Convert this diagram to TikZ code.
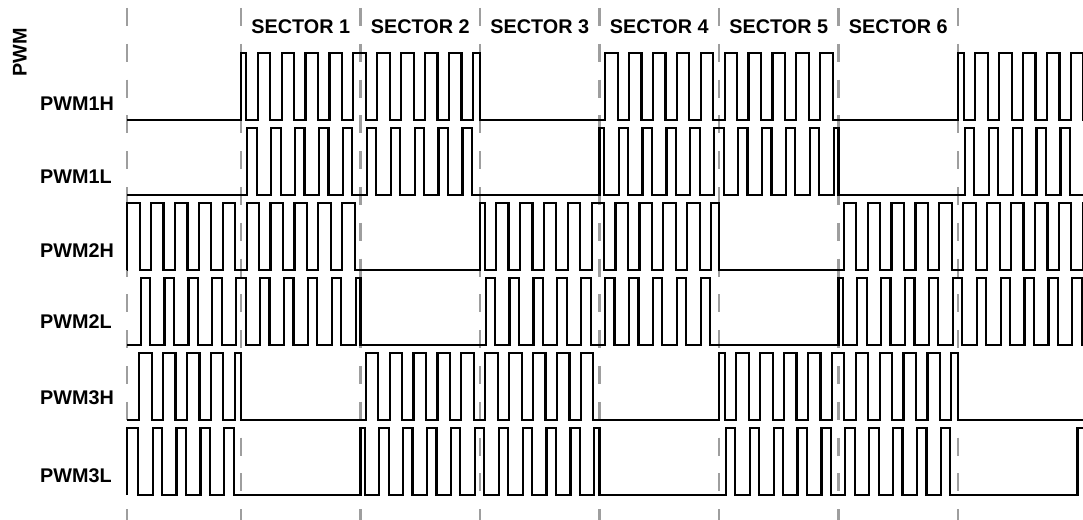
\documentclass[tikz,border=0pt]{standalone}
\usepackage{fontspec}
\setmainfont{Liberation Sans}
\def\pwmP{23.9}
\def\pwmW{12.5}
\def\pwmD{1}
% H pulses: #1 low y, #2 high y, #3 block start, #4 block end, #5 first centre, #6 kmin, #7 kmax
\def\Hp#1#2#3#4#5#6#7{\foreach \k in {#6,...,#7}{ -- ({max(#3,#5+(\k)*\pwmP-\pwmW/2)},#1) -- ({max(#3,#5+(\k)*\pwmP-\pwmW/2)},#2) -- ({min(#4,#5+(\k)*\pwmP+\pwmW/2)},#2) -- ({min(#4,#5+(\k)*\pwmP+\pwmW/2)},#1) } -- (#4,#1)}
% L pulses (gaps between H pulses)
\def\Lp#1#2#3#4#5#6#7{\foreach \g in {#6,...,#7}{ -- ({max(#3,#5+(\g)*\pwmP+\pwmW/2+\pwmD)},#1) -- ({max(#3,#5+(\g)*\pwmP+\pwmW/2+\pwmD)},#2) -- ({min(#4,#5+(\g+1)*\pwmP-\pwmW/2-\pwmD)},#2) -- ({min(#4,#5+(\g+1)*\pwmP-\pwmW/2-\pwmD)},#1) } -- (#4,#1)}
\tikzset{
  wv/.style={line width=2.2pt, black, line join=miter},
  dl/.style={line width=2.2pt, color=black!38, dash pattern=on 18pt off 17.8pt},
  lbl/.style={font=\fontsize{19.8}{24}\selectfont\bfseries, inner sep=0pt},
}
\begin{document}
\begin{tikzpicture}[x=1pt,y=-1pt]
\useasboundingbox (0,0) rectangle (1083,519);
\clip (0,0) rectangle (1083,519);
\fill[white] (0,0) rectangle (1083,519);
% sector boundaries (dashed)
\foreach \xx/\nm in {127/b0,241/b1,360.5/b2,480/b3,599.5/b4,719/b5,838.5/b6,958/b7}{
  \coordinate (\nm t) at (\xx,8);
  \coordinate (\nm b) at (\xx,521);
  \draw[dl] (\nm t) -- (\nm b);
}
% sector labels
\node[lbl, anchor=base] (s1) at (300.75,33.3) {SECTOR 1};
\node[lbl, anchor=base] (s2) at (420.25,33.3) {SECTOR 2};
\node[lbl, anchor=base] (s3) at (539.75,33.3) {SECTOR 3};
\node[lbl, anchor=base] (s4) at (659.25,33.3) {SECTOR 4};
\node[lbl, anchor=base] (s5) at (778.75,33.3) {SECTOR 5};
\node[lbl, anchor=base] (s6) at (898.25,33.3) {SECTOR 6};
% row labels
\node[lbl, rotate=90, anchor=base] (pwm) at (26.5,52.5) {PWM};
\node[lbl, anchor=base west] (l1h) at (40,110) {PWM1H};
\node[lbl, anchor=base west] (l1l) at (40,183) {PWM1L};
\node[lbl, anchor=base west] (l2h) at (40,257) {PWM2H};
\node[lbl, anchor=base west] (l2l) at (40,328) {PWM2L};
\node[lbl, anchor=base west] (l3h) at (40,404) {PWM3H};
\node[lbl, anchor=base west] (l3l) at (40,482) {PWM3L};
% PWM1H
\draw[wv] (127,120) \Hp{120}{53}{241}{480}{264}{-1}{9} \Hp{120}{53}{599.5}{838.5}{611.4}{0}{9} \Hp{120}{53}{958}{1090}{957.6}{0}{5};
% PWM1L
\draw[wv] (127,195) \Lp{195}{128}{241}{480}{264}{-1}{8} \Lp{195}{128}{599.5}{838.5}{611.4}{-1}{9} \Lp{195}{128}{958}{1090}{957.6}{0}{5};
% PWM2H
\draw[wv] (127,270) \Hp{270}{203}{127}{360.5}{133.4}{0}{9} \Hp{270}{203}{480}{719}{478.4}{0}{10} \Hp{270}{203}{838.5}{1090}{850}{0}{10};
% PWM2L
\draw[wv] (127,345) \Lp{345}{278}{127}{360.5}{133.4}{0}{9} \Lp{345}{278}{480}{719}{478.4}{0}{9} \Lp{345}{278}{838.5}{1090}{850}{-1}{9};
% PWM3H
\draw[wv] (127,420) \Hp{420}{353}{127}{241}{145.4}{0}{4} \Hp{420}{353}{360.5}{599.5}{372}{0}{9} \Hp{420}{353}{719}{958}{718.6}{0}{10} -- (1090,420);
% PWM3L
\draw[wv] (127,495) -- (127,428) -- (138.15,428) -- (138.15,495) \Lp{495}{428}{127}{241}{145.4}{0}{3} \Lp{495}{428}{360.5}{599.5}{372}{-1}{9} \Lp{495}{428}{719}{958}{718.6}{0}{9} -- (1077.5,495) -- (1077.5,428) -- (1090,428);
\end{tikzpicture}
\end{document}
